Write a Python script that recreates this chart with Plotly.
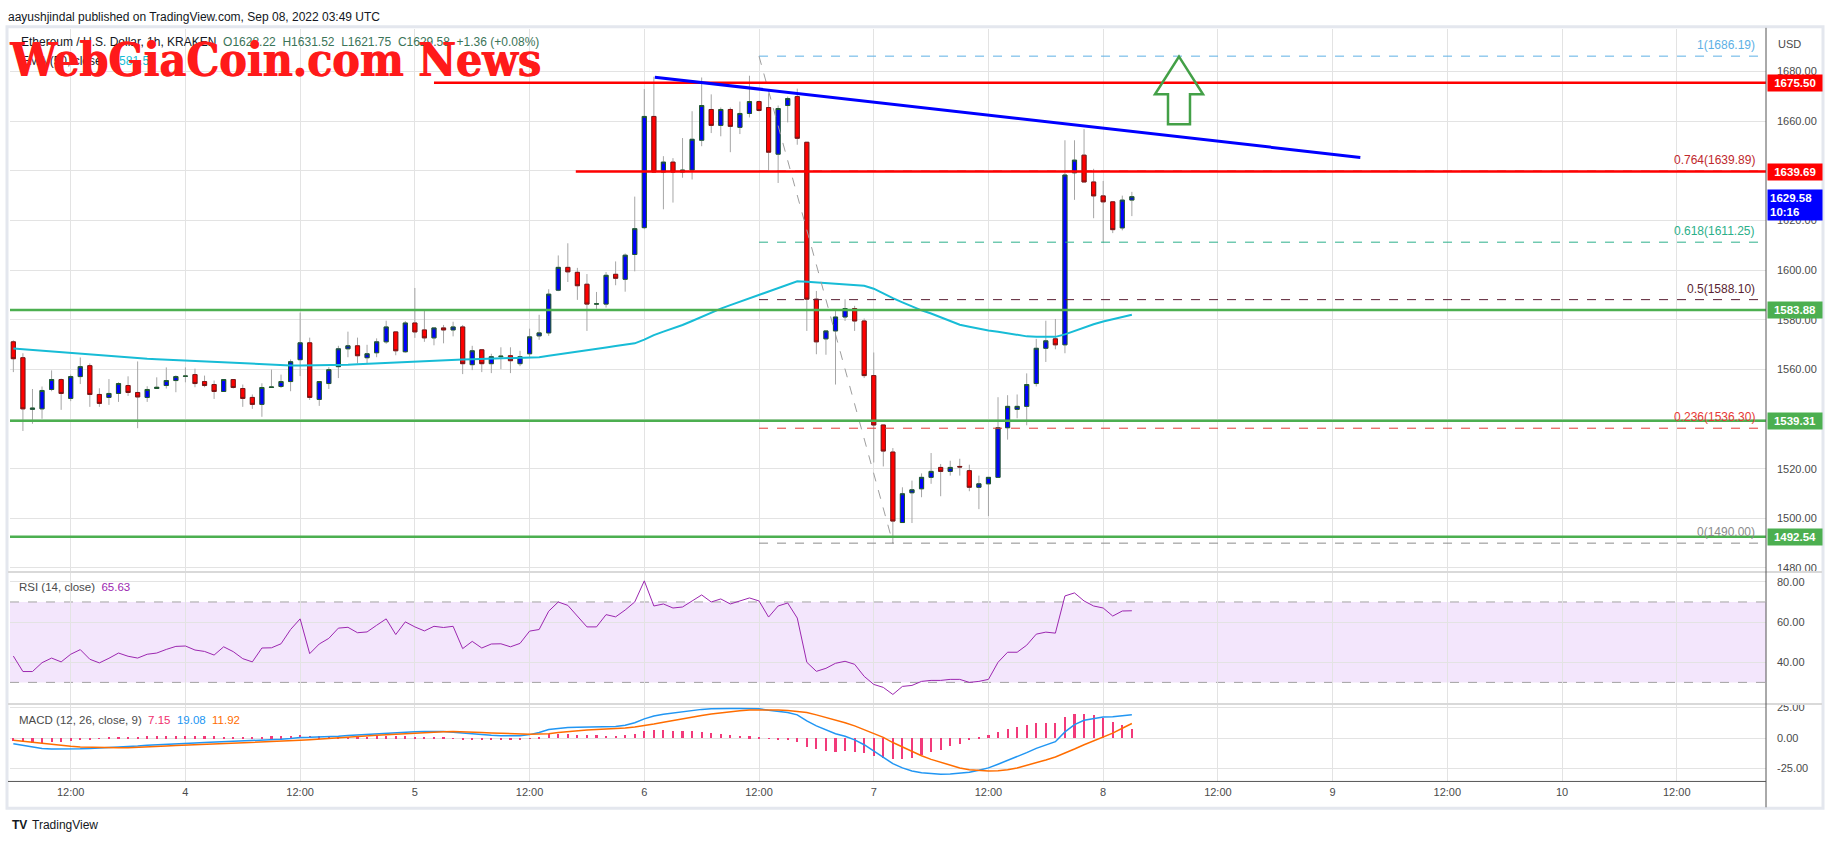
import pandas as pd
import plotly.graph_objects as go

W, H = 1834, 845

# ---------------- data ----------------
open_ = [1571.1, 1564.7, 1543.9, 1544.1, 1551.9, 1555.9, 1548.3, 1557.1, 1561.5, 1549.9,
         1548.7, 1550.3, 1553.5, 1550.7, 1548.7, 1552.3, 1553.5, 1555.5, 1557.2, 1557.9,
         1555.1, 1553.9, 1551.1, 1555.9, 1552.3, 1548.7, 1545.9, 1552.7, 1553.1, 1555.1,
         1563.9, 1570.7, 1547.9, 1554.3, 1561.1, 1568.3, 1569.5, 1564.7, 1566.7, 1571.1,
         1575.1, 1567.1, 1578.7, 1575.9, 1572.7, 1576.7, 1575.9, 1577.1, 1561.9, 1567.9,
         1562.3, 1565.1, 1565.5, 1562.3, 1566.3, 1573.5, 1574.7, 1591.9, 1601.1, 1599.1,
         1594.3, 1586.3, 1586.3, 1598.3, 1596.3, 1606.3, 1617.1, 1661.9, 1639.5, 1643.5,
         1639.5, 1640.3, 1652.3, 1664.7, 1658.3, 1664.7, 1657.5, 1663.1, 1667.9, 1665.5,
         1646.7, 1666.3, 1669.9, 1651.5, 1588.3, 1572.3, 1575.5, 1581.1, 1584.5, 1579.5,
         1557.5, 1537.6, 1526.7, 1498.3, 1510.3, 1511.9, 1516.5, 1520.5, 1518.9, 1520.9,
         1519.2, 1512.5, 1513.9, 1516.5, 1536.5, 1543.9, 1545.1, 1554.3, 1568.5, 1572.3,
         1569.9, 1639.2, 1646.3, 1635.5, 1629.9, 1627.5, 1617.0, 1628.22]
high = [1571.7, 1566.5, 1552.1, 1553.1, 1559.6, 1556.3, 1557.9, 1564.8, 1562.4, 1552.4,
        1556.1, 1554.8, 1557.2, 1563.2, 1553.2, 1556.8, 1560.8, 1557.6, 1560.8, 1560.3,
        1557.5, 1555.5, 1555.9, 1556.0, 1553.9, 1549.9, 1554.4, 1559.9, 1557.9, 1564.0,
        1582.9, 1572.8, 1555.1, 1560.9, 1569.5, 1575.2, 1572.8, 1569.9, 1572.5, 1579.6,
        1575.1, 1579.5, 1592.8, 1583.5, 1576.7, 1577.9, 1579.2, 1577.9, 1569.5, 1567.9,
        1566.3, 1568.9, 1568.9, 1567.5, 1576.4, 1582.0, 1592.3, 1605.9, 1610.8, 1600.9,
        1598.4, 1591.2, 1599.2, 1603.5, 1606.7, 1629.6, 1672.9, 1677.9, 1645.9, 1645.1,
        1653.2, 1664.0, 1677.6, 1670.8, 1665.5, 1665.5, 1667.9, 1678.3, 1668.3, 1671.2,
        1666.3, 1669.9, 1673.1, 1651.5, 1591.6, 1575.5, 1583.5, 1588.3, 1585.6, 1580.5,
        1566.8, 1537.6, 1528.3, 1512.5, 1515.2, 1518.1, 1526.3, 1521.9, 1523.2, 1524.0,
        1521.6, 1517.2, 1516.5, 1548.8, 1549.6, 1549.9, 1558.4, 1572.3, 1579.6, 1580.3,
        1652.3, 1652.3, 1656.8, 1640.8, 1635.9, 1627.5, 1630.0, 1631.52]
low = [1558.9, 1535.2, 1538.1, 1540.1, 1551.2, 1543.7, 1547.2, 1554.1, 1544.9, 1544.9,
       1545.7, 1546.9, 1549.3, 1536.3, 1546.9, 1552.2, 1552.3, 1550.8, 1554.8, 1552.8,
       1552.8, 1548.1, 1551.1, 1552.3, 1544.9, 1544.1, 1540.9, 1552.5, 1552.5, 1551.2,
       1557.3, 1547.7, 1545.3, 1552.1, 1556.5, 1564.9, 1562.4, 1562.3, 1564.9, 1570.3,
       1565.7, 1566.7, 1572.7, 1571.1, 1569.7, 1570.5, 1573.3, 1558.1, 1559.7, 1558.9,
       1558.5, 1560.1, 1558.5, 1561.3, 1564.5, 1571.9, 1573.5, 1591.5, 1595.2, 1588.0,
       1575.5, 1584.1, 1584.9, 1593.9, 1591.3, 1599.5, 1616.5, 1639.3, 1624.5, 1627.2,
       1637.2, 1636.5, 1649.9, 1655.2, 1653.9, 1647.5, 1654.8, 1661.5, 1663.9, 1639.5,
       1635.1, 1659.5, 1650.5, 1575.5, 1566.1, 1565.9, 1553.9, 1579.5, 1575.5, 1556.5,
       1522.5, 1520.9, 1489.9, 1498.3, 1498.1, 1508.5, 1513.9, 1508.9, 1517.2, 1517.2,
       1510.9, 1503.7, 1500.9, 1516.5, 1531.7, 1540.3, 1537.5, 1553.1, 1563.0, 1568.1,
       1566.5, 1628.3, 1635.5, 1620.9, 1610.9, 1614.9, 1616.0, 1621.75]
close = [1564.3, 1544.1, 1544.4, 1551.5, 1555.9, 1550.3, 1557.1, 1561.1, 1549.9, 1546.3,
         1550.3, 1554.3, 1550.7, 1548.9, 1551.9, 1552.8, 1555.5, 1557.1, 1557.3, 1554.3,
         1553.5, 1551.1, 1555.9, 1552.7, 1548.3, 1545.9, 1552.7, 1552.9, 1555.1, 1563.1,
         1570.7, 1548.7, 1555.1, 1559.9, 1568.3, 1569.5, 1565.5, 1566.3, 1571.1, 1577.1,
         1567.5, 1578.7, 1575.1, 1572.7, 1576.7, 1575.9, 1577.1, 1562.3, 1567.5, 1562.3,
         1565.1, 1565.3, 1563.5, 1565.1, 1573.1, 1574.7, 1590.3, 1601.1, 1599.3, 1593.7,
         1586.3, 1586.4, 1597.9, 1596.7, 1606.0, 1616.7, 1661.9, 1639.5, 1643.5, 1639.5,
         1640.3, 1652.7, 1666.3, 1658.3, 1664.7, 1657.9, 1663.1, 1667.9, 1664.3, 1647.5,
         1665.1, 1669.1, 1653.1, 1588.3, 1571.1, 1575.5, 1581.1, 1584.5, 1579.5, 1557.5,
         1537.6, 1527.1, 1498.9, 1509.9, 1511.5, 1516.5, 1518.9, 1518.9, 1520.5, 1520.7,
         1512.5, 1513.9, 1516.5, 1536.5, 1545.1, 1545.1, 1553.9, 1568.5, 1571.5, 1569.9,
         1638.3, 1644.3, 1635.5, 1629.9, 1627.5, 1616.3, 1628.2, 1629.58]
ema = [1568.4, 1568.1, 1567.8, 1567.5, 1567.2, 1566.9, 1566.5, 1566.2, 1565.9, 1565.6,
       1565.3, 1565.0, 1564.8, 1564.5, 1564.3, 1564.1, 1563.9, 1563.8, 1563.6, 1563.4,
       1563.3, 1563.1, 1563.0, 1562.8, 1562.6, 1562.4, 1562.2, 1562.0, 1561.8, 1561.6,
       1561.6, 1561.6, 1561.6, 1561.7, 1561.7, 1561.9, 1562.1, 1562.3, 1562.5, 1562.7,
       1562.8, 1563.0, 1563.1, 1563.3, 1563.5, 1563.7, 1563.9, 1564.0, 1564.1, 1564.2,
       1564.3, 1564.3, 1564.4, 1564.4, 1564.5, 1564.9, 1565.5, 1566.0, 1566.5, 1567.0,
       1567.6, 1568.2, 1568.8, 1569.4, 1570.0, 1570.5, 1572.0, 1573.8, 1575.2, 1576.5,
       1577.9, 1579.5, 1581.2, 1582.9, 1584.5, 1585.9, 1587.3, 1588.6, 1589.9, 1591.3,
       1592.7, 1594.1, 1595.5, 1595.3, 1595.0, 1594.7, 1594.4, 1594.2, 1594.0, 1593.7,
       1592.5, 1590.5, 1588.7, 1587.0, 1585.3, 1583.8, 1582.5, 1581.0, 1579.5, 1578.0,
       1577.2, 1576.4, 1575.7, 1575.2, 1574.5, 1573.8, 1573.3, 1573.1, 1573.0, 1573.1,
       1574.1, 1575.5, 1576.9, 1578.2, 1579.3, 1580.3, 1581.2, 1582.0]
rsi = [43.1, 35.4, 35.4, 39.8, 42.1, 40.2, 44.0, 46.3, 41.5, 39.7,
       42.0, 44.6, 43.0, 42.1, 44.0, 44.6, 46.4, 47.9, 48.1, 46.1,
       45.4, 43.6, 47.7, 45.3, 41.8, 40.2, 47.1, 47.2, 49.2, 56.3,
       61.6, 44.3, 49.1, 51.9, 57.0, 57.4, 54.7, 55.1, 58.4, 61.6,
       53.8, 60.1, 57.6, 55.6, 57.9, 57.3, 57.9, 46.8, 50.4, 47.1,
       49.1, 49.2, 47.7, 49.4, 55.5, 56.3, 65.4, 70.0, 68.3, 62.9,
       57.6, 57.6, 63.7, 62.6, 66.0, 70.0, 80.5, 68.0, 69.0, 67.0,
       67.5, 70.5, 73.5, 70.0, 71.5, 69.0, 70.5, 72.0, 70.5, 62.5,
       68.0, 69.5, 62.0, 40.0, 35.5, 37.0, 39.5, 40.5, 39.0, 33.0,
       29.0, 27.5, 24.0, 28.0, 28.5, 30.5, 31.0, 31.0, 31.5, 31.5,
       30.0, 30.5, 31.5, 40.0, 45.0, 45.0, 48.5, 54.0, 55.0, 54.5,
       73.0, 74.5, 70.5, 68.0, 67.0, 63.0, 65.5, 65.63]
macd = [-4.6, -6.0, -7.5, -8.5, -9.0, -9.1, -9.0, -8.8, -8.5, -8.2,
        -7.8, -7.5, -7.0, -6.6, -6.0, -5.5, -5.0, -4.6, -4.3, -4.0,
        -3.7, -3.4, -3.1, -2.9, -2.6, -2.3, -2.0, -1.5, -1.0, -0.4,
        0.5, 0.6, 0.7, 1.0, 1.5, 2.0, 2.5, 3.0, 3.6, 4.3,
        4.8, 5.0, 5.2, 5.3, 5.4, 5.3, 4.8, 4.0, 3.2, 2.7,
        2.2, 1.8, 1.6, 1.8, 2.8, 4.5, 7.0, 8.0, 8.6, 8.9,
        9.0, 9.1, 9.2, 9.4, 10.5, 12.5, 15.7, 18.0, 19.5, 20.6,
        21.5, 22.5, 23.5, 24.0, 24.3, 24.3, 24.2, 24.3, 24.0, 22.8,
        21.8, 21.0, 19.0, 14.0, 10.0, 6.5, 3.5, 1.5, -1.5, -5.5,
        -10.5, -15.5, -21.0, -24.5, -27.0, -28.5, -29.3, -29.6, -29.4, -29.0,
        -28.0, -26.5, -24.5, -21.5, -18.5, -15.5, -12.0, -8.5, -5.5, -3.0,
        5.0, 11.0, 14.5, 16.0, 17.2, 17.5, 18.3, 19.08]
signal = [-1.9, -2.8, -3.7, -4.6, -5.4, -6.2, -6.8, -7.3, -7.6, -7.8,
          -7.9, -8.0, -7.9, -7.7, -7.4, -7.0, -6.6, -6.2, -5.9, -5.5,
          -5.1, -4.7, -4.3, -4.0, -3.7, -3.4, -3.1, -2.8, -2.5, -2.2,
          -1.9, -1.4, -0.8, -0.3, 0.3, 0.9, 1.4, 1.8, 2.2, 2.7,
          3.2, 3.6, 4.0, 4.4, 4.8, 5.2, 5.4, 5.3, 5.0, 4.6,
          4.2, 3.8, 3.5, 3.3, 3.2, 3.3, 3.5, 4.5, 5.3, 6.0,
          6.6, 7.0, 7.3, 7.5, 8.2, 9.0, 10.0, 11.5, 13.0, 14.5,
          15.8, 17.0, 18.5, 19.8, 20.8, 21.6, 22.3, 23.0, 23.2, 23.2,
          23.0, 22.6, 22.0, 21.0, 19.0, 17.0, 15.0, 12.5, 10.0, 7.0,
          4.0, 0.5, -3.7, -7.5, -11.0, -14.5, -17.5, -20.0, -22.5, -24.5,
          -26.0, -26.8, -27.0, -26.8, -26.0, -24.5, -22.5, -20.5, -18.0, -15.5,
          -12.5, -9.0, -5.5, -2.5, 0.5, 4.0, 8.0, 11.92]
hist = [m - s for m, s in zip(macd, signal)]

times = pd.date_range("2022-09-03 06:00", periods=len(open_), freq="h")

tick_times = pd.date_range("2022-09-03 12:00", "2022-09-10 12:00", freq="12h")
tick_text = ["12:00", "4", "12:00", "5", "12:00", "6", "12:00", "7",
             "12:00", "8", "12:00", "9", "12:00", "10", "12:00"]
price_ticks = [1480, 1500, 1520, 1540, 1560, 1580, 1600, 1620, 1640, 1660, 1680]
rsi_ticks = [40, 60, 80]
macd_ticks = [-25, 0, 25]

resistance = [1675.50, 1639.69]
resistance_start = ["2022-09-05 02:00", "2022-09-05 16:50"]
support = [1583.88, 1539.31, 1492.54]
trend_pts = [("2022-09-06 01:06", 1677.7), ("2022-09-09 02:54", 1645.4)]
fib_ratio = ["1", "0.764", "0.618", "0.5", "0.236", "0"]
fib_price = [1686.19, 1639.89, 1611.25, 1588.10, 1536.30, 1490.00]
fib_color = ["#5eb0e5", "#c0282d", "#2bb08a", "#5a1f33", "#e53935", "#8c8c8c"]
fib_start, fib_end = "2022-09-06 12:00", "2022-09-07 02:00"

# ---------------- geometry helpers (pixels -> paper) ----------------
def fx(px):
    return px / W

def fy(py):
    return 1 - py / H

X0, X1 = 10, 1766
x_range = ["2022-09-03 05:39", "2022-09-10 21:20"]
FONT = "Liberation Sans, Arial, sans-serif"
GRID = "#e3e3e3"

fig = go.Figure()

# wicks
fig.add_trace(go.Candlestick(
    x=times, open=open_, high=high, low=low, close=close,
    increasing=dict(line=dict(color="#a6a6a6", width=1), fillcolor="#a6a6a6"),
    decreasing=dict(line=dict(color="#a6a6a6", width=1), fillcolor="#a6a6a6"),
    xaxis="x", yaxis="y", showlegend=False, hoverinfo="skip"))
# bodies
body_hi = [max(o, c) for o, c in zip(open_, close)]
body_lo = [min(o, c) for o, c in zip(open_, close)]
fig.add_trace(go.Candlestick(
    x=times, open=open_, high=body_hi, low=body_lo, close=close,
    increasing=dict(line=dict(color="#1f5a2e", width=1), fillcolor="#0000ff"),
    decreasing=dict(line=dict(color="#7a1515", width=1), fillcolor="#ff0000"),
    xaxis="x", yaxis="y", showlegend=False))
# EMA
fig.add_trace(go.Scatter(x=times, y=ema, mode="lines", line=dict(color="#17bcd6", width=2),
                         xaxis="x", yaxis="y", showlegend=False))
# RSI
fig.add_trace(go.Scatter(x=times, y=rsi, mode="lines", line=dict(color="#9c27b0", width=1),
                         xaxis="x2", yaxis="y2", showlegend=False))
# MACD
fig.add_trace(go.Bar(x=times, y=hist, width=0.22 * 3600000, marker=dict(color="#f23a7a", line=dict(width=0)),
                     xaxis="x3", yaxis="y3", showlegend=False))
fig.add_trace(go.Scatter(x=times, y=macd, mode="lines", line=dict(color="#2196f3", width=1.5),
                         xaxis="x3", yaxis="y3", showlegend=False))
fig.add_trace(go.Scatter(x=times, y=signal, mode="lines", line=dict(color="#ff6d00", width=1.5),
                         xaxis="x3", yaxis="y3", showlegend=False))

shapes = []
annotations = []

# RSI band
shapes.append(dict(type="rect", xref="paper", yref="y2", x0=fx(X0), x1=fx(X1), y0=30, y1=70,
                   fillcolor="#f3e6fc", line=dict(width=0), layer="between"))
for lv in (70, 30):
    shapes.append(dict(type="line", xref="paper", yref="y2", x0=fx(X0), x1=fx(X1), y0=lv, y1=lv,
                       line=dict(color="#a3a3a3", width=1, dash="dash"), layer="between"))

# fib retracement
for r, p, c in zip(fib_ratio, fib_price, fib_color):
    shapes.append(dict(type="line", xref="x", yref="y", x0=fib_start, x1="2022-09-13", y0=p, y1=p,
                       line=dict(color=c, width=1, dash="dash"), layer="above"))
    annotations.append(dict(xref="paper", yref="y", x=fx(1757), y=p, xanchor="right", yanchor="bottom",
                            yshift=2, text=f"{r}({p:.2f})", showarrow=False,
                            font=dict(family=FONT, size=12, color=c)))
shapes.append(dict(type="line", xref="x", yref="y", x0=fib_start, x1=fib_end,
                   y0=fib_price[0], y1=fib_price[-1],
                   line=dict(color="#9e9e9e", width=1, dash="dash"), layer="above"))

# support / resistance
for lv in support:
    shapes.append(dict(type="line", xref="x", yref="y", x0=x_range[0], x1="2022-09-13", y0=lv, y1=lv,
                       line=dict(color="#4caf50", width=2.5), layer="above"))
for lv, st in zip(resistance, resistance_start):
    shapes.append(dict(type="line", xref="x", yref="y", x0=st, x1="2022-09-13", y0=lv, y1=lv,
                       line=dict(color="#ff0000", width=2.5), layer="above"))
# trend line
shapes.append(dict(type="line", xref="x", yref="y", x0=trend_pts[0][0], y0=trend_pts[0][1],
                   x1=trend_pts[1][0], y1=trend_pts[1][1], line=dict(color="#0000ff", width=3), layer="above"))

# green up arrow (drawing)
ax = [(1179, 53), (1203, 91), (1190, 91), (1190, 121), (1168, 121), (1168, 91), (1155, 91)]
path = "M " + " L ".join(f"{fx(a):.5f},{fy(b):.5f}" for a, b in ax) + " Z"
shapes.append(dict(type="path", xref="paper", yref="paper", path=path,
                   line=dict(color="#43a047", width=2.5), fillcolor="rgba(0,0,0,0)", layer="above"))

# frame / separators
shapes.append(dict(type="rect", xref="paper", yref="paper", x0=fx(7), x1=fx(1823), y0=fy(810), y1=fy(23),
                   line=dict(color="#e4e7ee", width=3), layer="above"))
for sep in (572, 705):
    shapes.append(dict(type="line", xref="paper", yref="paper", x0=fx(8), x1=fx(1822), y0=fy(sep), y1=fy(sep),
                       line=dict(color="#d9d9d9", width=2), layer="above"))
shapes.append(dict(type="line", xref="paper", yref="paper", x0=fx(8), x1=fx(X1), y0=fy(783), y1=fy(783),
                   line=dict(color="#555555", width=1), layer="above"))
shapes.append(dict(type="line", xref="paper", yref="paper", x0=fx(X1), x1=fx(X1), y0=fy(809), y1=fy(24),
                   line=dict(color="#555555", width=1), layer="above"))

# price axis label boxes
def axis_box(y, text, bg, yref="y"):
    return dict(xref="paper", yref=yref, x=fx(X1 + 1), y=y, xanchor="left", yanchor="middle",
                text=f"<b>{text}</b>", showarrow=False, bgcolor=bg, width=50, height=12, borderpad=2,
                align="center", font=dict(family=FONT, size=11.5, color="white"))

for lv in resistance:
    annotations.append(axis_box(lv, f"{lv:.2f}", "#ff0000"))
for lv in support:
    annotations.append(axis_box(lv, f"{lv:.2f}", "#4caf50"))
annotations.append(dict(xref="paper", yref="y", x=fx(X1 + 1), y=close[-1], yshift=8, xanchor="left",
                        yanchor="top", text=f"<b>{close[-1]:.2f}<br>10:16</b>", showarrow=False,
                        bgcolor="#0000ff", width=50, height=26, borderpad=2, align="left",
                        font=dict(family=FONT, size=11.5, color="white")))

# texts
annotations.append(dict(xref="paper", yref="paper", x=fx(X1 + 10), y=fy(40), xanchor="left", yanchor="middle",
                        text="USD", showarrow=False, font=dict(family=FONT, size=11, color="#4a4a4a")))
annotations.append(dict(xref="paper", yref="paper", x=fx(6), y=fy(13), xanchor="left", yanchor="middle",
                        text="aayushjindal published on TradingView.com, Sep 08, 2022 03:49 UTC",
                        showarrow=False, font=dict(family=FONT, size=12, color="#131722")))
annotations.append(dict(xref="paper", yref="paper", x=fx(19), y=fy(38), xanchor="left", yanchor="middle",
                        text="Ethereum / U.S. Dollar, 1h, KRAKEN&nbsp;&nbsp;<span style='color:#3b7458'>O1628.22&nbsp;&nbsp;H1631.52&nbsp;&nbsp;L1621.75&nbsp;&nbsp;C1629.58&nbsp;&nbsp;+1.36 (+0.08%)</span>",
                        showarrow=False, font=dict(family=FONT, size=12, color="#131722")))
annotations.append(dict(xref="paper", yref="paper", x=fx(19), y=fy(57), xanchor="left", yanchor="middle",
                        text="EMA (50, close)&nbsp;&nbsp;<span style='color:#17bcd6'>1581.58</span>",
                        showarrow=False, font=dict(family=FONT, size=12, color="#131722")))
# watermark (drawn twice with a 1px offset to get the heavy weight of the original)
for dx in (0, 1.2):
    annotations.append(dict(xref="paper", yref="paper", x=fx(7), y=fy(56), xanchor="left", yanchor="middle",
                            xshift=dx, text="<b>WebGiaCoin.com News</b>", showarrow=False,
                            font=dict(family="DejaVu Serif Condensed, DejaVu Serif, serif", size=46,
                                      color="#ff1a1a")))
annotations.append(dict(xref="paper", yref="paper", x=fx(17), y=fy(587), xanchor="left", yanchor="middle",
                        text="RSI (14, close)&nbsp;&nbsp;<span style='color:#9c27b0'>65.63</span>",
                        showarrow=False, font=dict(family=FONT, size=11.5, color="#4a4a4a")))
annotations.append(dict(xref="paper", yref="paper", x=fx(17), y=fy(721), xanchor="left", yanchor="middle",
                        text="MACD (12, 26, close, 9)&nbsp;&nbsp;<span style='color:#f0306e'>7.15</span>&nbsp;&nbsp;"
                             "<span style='color:#2196f3'>19.08</span>&nbsp;&nbsp;<span style='color:#ff6d00'>11.92</span>",
                        showarrow=False, font=dict(family=FONT, size=11.5, color="#4a4a4a")))
annotations.append(dict(xref="paper", yref="paper", x=fx(10), y=fy(827), xanchor="left", yanchor="middle",
                        text="<b>TV</b>", showarrow=False, font=dict(family=FONT, size=12, color="#131722")))
annotations.append(dict(xref="paper", yref="paper", x=fx(30), y=fy(827), xanchor="left", yanchor="middle",
                        text="TradingView", showarrow=False, font=dict(family=FONT, size=12, color="#131722")))

xcommon = dict(type="date", range=x_range, domain=[fx(X0), fx(X1)], showgrid=True, gridcolor=GRID,
               tickvals=list(tick_times), ticktext=tick_text, zeroline=False, showline=False, ticks="",
               rangeslider=dict(visible=False), fixedrange=True)
ycommon = dict(side="right", showgrid=True, gridcolor=GRID, zeroline=False, showline=False, ticks="",
               ticklabelstandoff=10, tickfont=dict(family=FONT, size=11, color="#4a4a4a"), fixedrange=True)

fig.update_layout(
    width=W, height=H, margin=dict(l=0, r=0, t=0, b=0),
    paper_bgcolor="white", plot_bgcolor="white", showlegend=False, boxgap=0.38, bargap=0,
    font=dict(family=FONT),
    xaxis=dict(**xcommon, anchor="y", showticklabels=False),
    xaxis2=dict(**xcommon, anchor="y2", matches="x", showticklabels=False),
    xaxis3=dict(**xcommon, anchor="y3", matches="x", showticklabels=True, ticklabelstandoff=3,
                tickfont=dict(family=FONT, size=11, color="#4a4a4a")),
    yaxis=dict(**ycommon, anchor="x", domain=[fy(572), fy(25)], range=[1478.4, 1697.2],
               tickvals=price_ticks, ticktext=[f"{v:.2f}" for v in price_ticks]),
    yaxis2=dict(**ycommon, anchor="x2", domain=[fy(705), fy(573)], range=[19.26, 84.44],
                tickvals=rsi_ticks, ticktext=[f"{v:.2f}" for v in rsi_ticks]),
    yaxis3=dict(**ycommon, anchor="x3", domain=[fy(783), fy(706)], range=[-35.6, 27.1],
                tickvals=macd_ticks, ticktext=[f"{v:.2f}" for v in macd_ticks]),
    shapes=shapes, annotations=annotations,
)

fig.write_html("out.html")
